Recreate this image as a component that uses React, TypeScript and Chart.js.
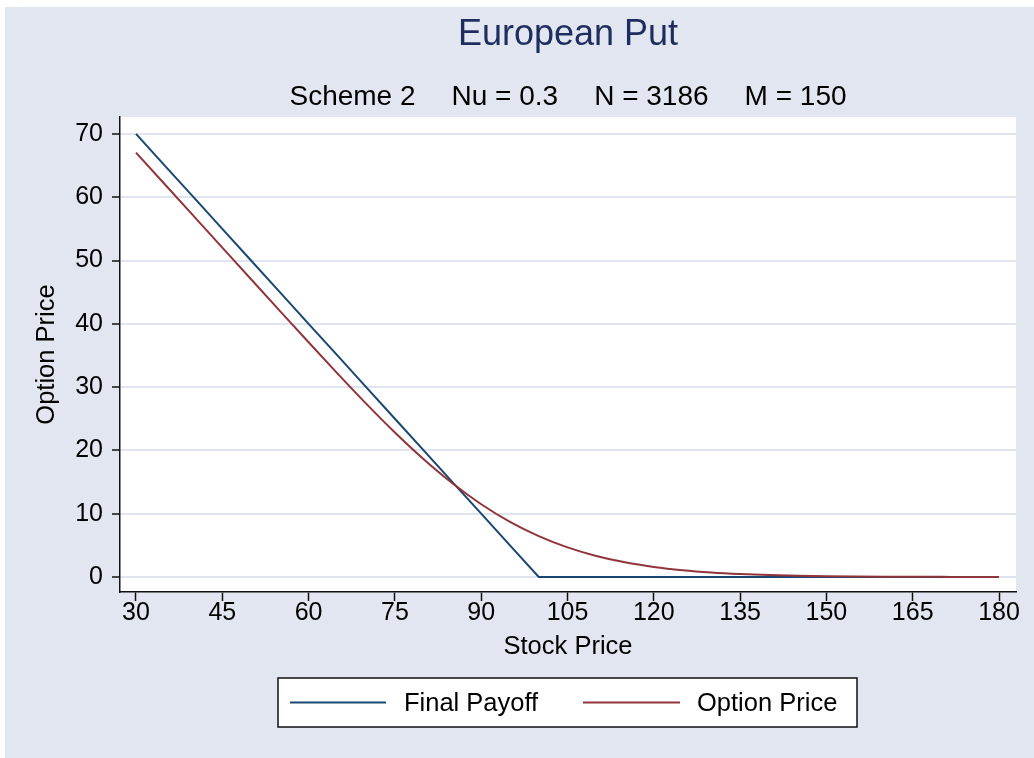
import React, { useEffect, useRef } from "react";
import { Chart, registerables } from "chart.js";

Chart.register(...registerables);

// ---------- data ----------
const stockPrices = [
  30, 35, 40, 45, 50, 55, 60, 65, 70, 75, 80, 85, 90, 95, 100,
  105, 110, 115, 120, 125, 130, 135, 140, 145, 150, 155, 160, 165, 170, 175, 180,
];
const finalPayoff = [
  70, 65, 60, 55, 50, 45, 40, 35, 30, 25, 20, 15, 10, 5, 0,
  0, 0, 0, 0, 0, 0, 0, 0, 0, 0, 0, 0, 0, 0, 0, 0,
];
const optionPrice = [
  67.04, 62.04, 57.04, 52.04, 47.04, 42.05, 37.08, 32.17, 27.39, 22.83, 18.6, 14.8, 11.49, 8.71, 6.46,
  4.68, 3.33, 2.32, 1.59, 1.07, 0.71, 0.47, 0.31, 0.2, 0.13, 0.08, 0.05, 0.03, 0.02, 0.01, 0.01,
];
const xTicks = [30, 45, 60, 75, 90, 105, 120, 135, 150, 165, 180];
const yTicks = [0, 10, 20, 30, 40, 50, 60, 70];
const seriesLabels = ["Final Payoff", "Option Price"];
const titleText = "European Put";
const subtitleParts = ["Scheme 2", "Nu = 0.3", "N = 3186", "M = 150"];
const xTitle = "Stock Price";
const yTitle = "Option Price";

// ---------- style ----------
const FONT = '"Liberation Sans", Arial, Helvetica, sans-serif';
const NAVY = "#1a476f";
const MAROON = "#90353b";
const BG = "#e1e6f0";
const GRID = "#dfe4ef";
const TITLE_COLOR = "#1e2d5e";

export default function App() {
  const ref = useRef<HTMLCanvasElement | null>(null);

  useEffect(() => {
    const canvas = ref.current;
    if (!canvas) return;

    const decor = {
      id: "stataDecor",
      beforeDraw(chart: any) {
        const { ctx, chartArea: a } = chart;
        ctx.save();
        ctx.fillStyle = "#ffffff";
        ctx.fillRect(a.left, a.top, a.right - a.left, a.bottom - a.top);
        ctx.restore();
      },
      afterDraw(chart: any) {
        const { ctx, chartArea: a } = chart;
        const cx = (a.left + a.right) / 2;
        const cy = (a.top + a.bottom) / 2;
        ctx.save();
        ctx.textAlign = "center";
        ctx.textBaseline = "middle";
        // title
        ctx.fillStyle = TITLE_COLOR;
        ctx.font = `36px ${FONT}`;
        ctx.fillText(titleText, cx, 28);
        // subtitle (pieces separated by wide gaps)
        ctx.fillStyle = "#000";
        ctx.font = `28px ${FONT}`;
        const gap = 36;
        const widths = subtitleParts.map((p) => ctx.measureText(p).width);
        const total = widths.reduce((s, w) => s + w, 0) + gap * (subtitleParts.length - 1);
        let sx = cx - total / 2;
        ctx.textAlign = "left";
        subtitleParts.forEach((p, i) => {
          ctx.fillText(p, sx, 90);
          sx += widths[i] + gap;
        });
        // axis titles
        ctx.textAlign = "center";
        ctx.font = `25.5px ${FONT}`;
        ctx.fillText(xTitle, cx, 640);
        ctx.save();
        ctx.translate(42, cy);
        ctx.rotate(-Math.PI / 2);
        ctx.fillText(yTitle, 0, 0);
        ctx.restore();
        // legend
        const bx = 273, by = 671, bw = 579, bh = 49;
        ctx.fillStyle = "#fff";
        ctx.fillRect(bx, by, bw, bh);
        ctx.strokeStyle = "#111";
        ctx.lineWidth = 1.5;
        ctx.strokeRect(bx, by, bw, bh);
        const ly = by + bh / 2;
        const items = [
          { x0: 285, x1: 381, tx: 399 },
          { x0: 578, x1: 675, tx: 692 },
        ];
        chart.data.datasets.forEach((ds: any, i: number) => {
          const it = items[i];
          ctx.strokeStyle = ds.borderColor;
          ctx.lineWidth = 2;
          ctx.beginPath();
          ctx.moveTo(it.x0, ly);
          ctx.lineTo(it.x1, ly);
          ctx.stroke();
          ctx.fillStyle = "#000";
          ctx.textAlign = "left";
          ctx.font = `25.5px ${FONT}`;
          ctx.fillText(ds.label, it.tx, ly + 1);
        });
        ctx.restore();
      },
    };

    const chart = new Chart(canvas, {
      type: "line",
      data: {
        datasets: [
          {
            label: seriesLabels[0],
            data: stockPrices.map((s, i) => ({ x: s, y: finalPayoff[i] })),
            borderColor: NAVY,
            borderWidth: 2,
            pointRadius: 0,
            tension: 0,
            order: 1,
          },
          {
            label: seriesLabels[1],
            data: stockPrices.map((s, i) => ({ x: s, y: optionPrice[i] })),
            borderColor: MAROON,
            borderWidth: 2,
            pointRadius: 0,
            cubicInterpolationMode: "monotone",
            order: 0,
          },
        ],
      },
      options: {
        animation: false,
        responsive: false,
        maintainAspectRatio: false,
        layout: { padding: { left: 0, top: 110, right: 18, bottom: 0 } },
        plugins: {
          legend: { display: false },
          title: { display: false },
          tooltip: { enabled: false },
        },
        scales: {
          x: {
            type: "linear",
            min: 27.22,
            max: 182.95,
            afterBuildTicks: (scale: any) => {
              scale.ticks = xTicks.map((v) => ({ value: v }));
            },
            afterFit: (scale: any) => {
              scale.height = 166;
            },
            grid: {
              drawOnChartArea: false,
              drawTicks: true,
              tickLength: 9,
              tickColor: "#111",
              tickWidth: 1.5,
            },
            border: { display: true, color: "#111", width: 1.5 },
            ticks: {
              color: "#000",
              font: { family: FONT, size: 25, lineHeight: 1 },
              padding: 0,
              maxRotation: 0,
              autoSkip: false,
            },
          },
          y: {
            type: "linear",
            min: -2.37,
            max: 72.67,
            afterBuildTicks: (scale: any) => {
              scale.ticks = yTicks.map((v) => ({ value: v }));
            },
            afterFit: (scale: any) => {
              scale.width = 115;
            },
            grid: {
              drawOnChartArea: true,
              color: GRID,
              lineWidth: 2,
              drawTicks: true,
              tickLength: 8,
              tickColor: "#111",
              tickWidth: 1.5,
            },
            border: { display: true, color: "#111", width: 1.5 },
            ticks: {
              color: "#000",
              font: { family: FONT, size: 25 },
              padding: 9,
              autoSkip: false,
            },
          },
        },
      },
      plugins: [decor],
    } as any);

    return () => chart.destroy();
  }, []);

  return (
    <div
      style={{
        position: "absolute",
        left: 5,
        top: 7,
        width: 1029,
        height: 751,
        background: BG,
      }}
    >
      <canvas ref={ref} width={1029} height={751} style={{ display: "block" }} />
    </div>
  );
}
